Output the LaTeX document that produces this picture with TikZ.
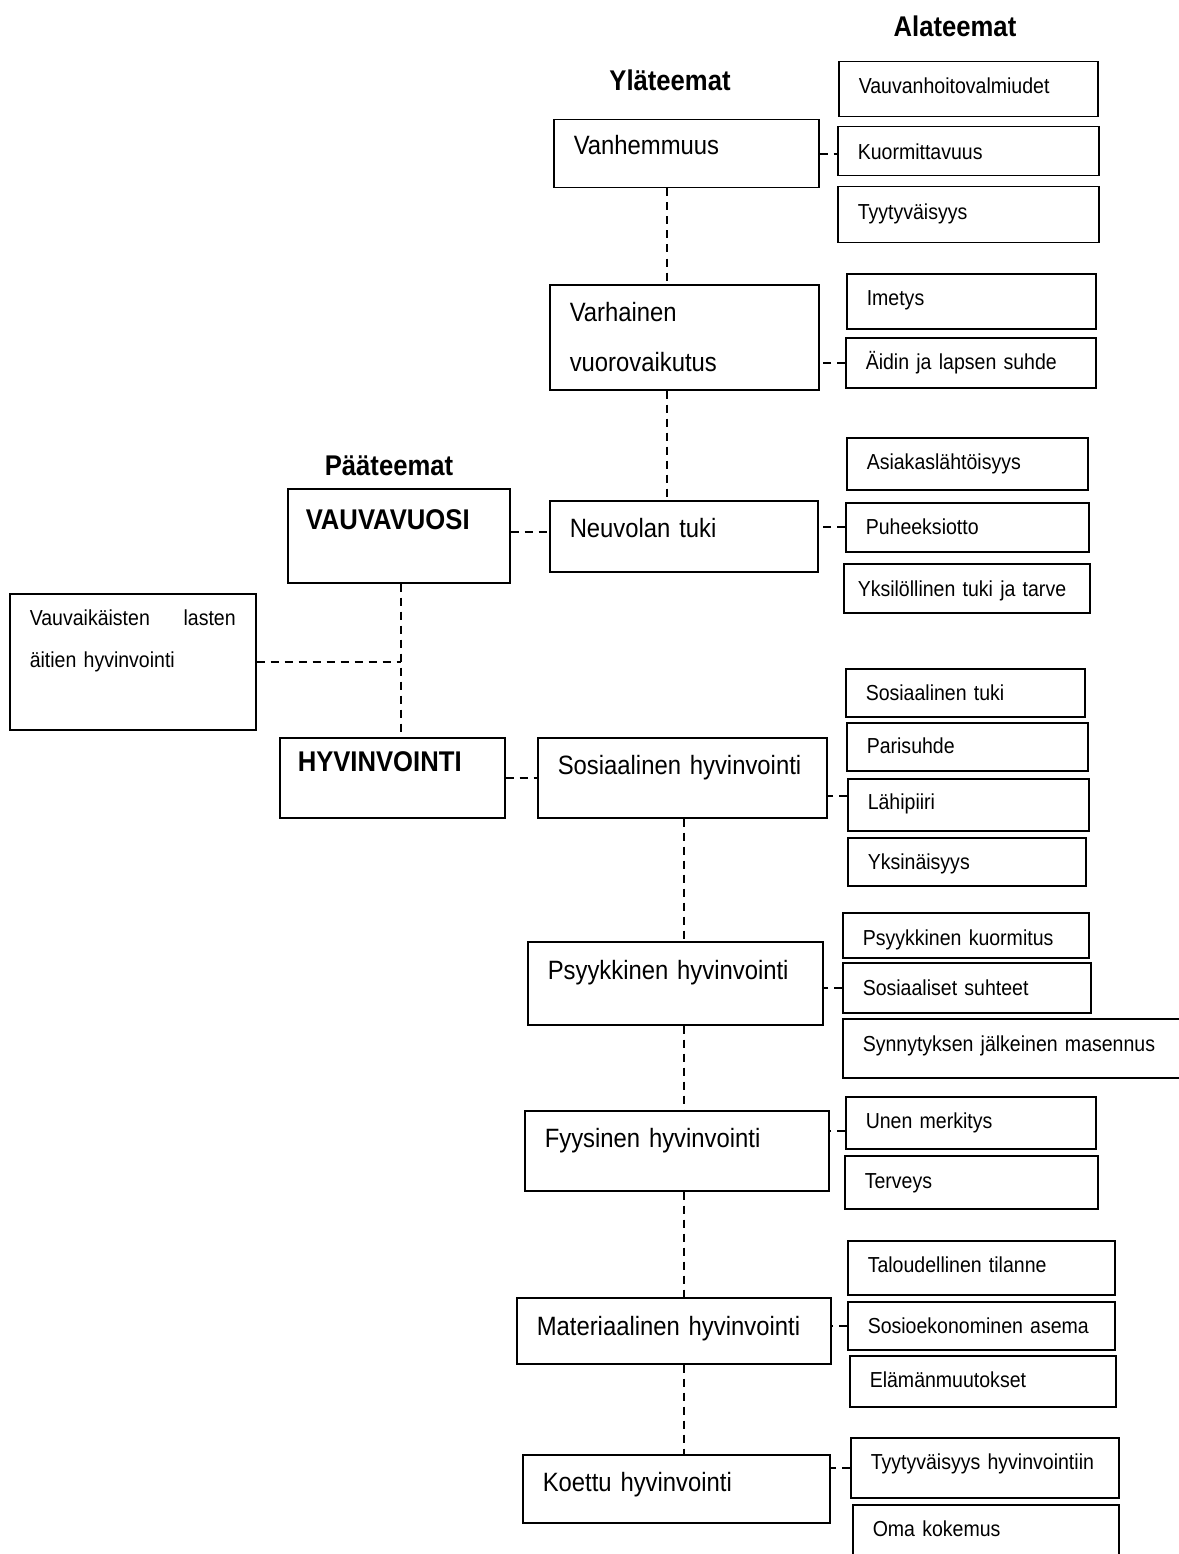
\documentclass[tikz,border=0pt]{standalone}
\usepackage{fontspec}
\setmainfont[FakeStretch=0.9]{Liberation Sans}
\tikzset{
  ybox/.style={draw,line width=1.5pt,anchor=north west,inner xsep=20pt,inner ysep=0pt,align=left,font=\fontsize{26.5}{32}\selectfont},
  abox/.style={draw,line width=1.5pt,anchor=north west,inner xsep=20pt,inner ysep=0pt,align=left,font=\fontsize{21.7}{26}\selectfont},
  pbox/.style={draw,line width=1.5pt,anchor=north west,inner xsep=18pt,inner ysep=0pt,align=left,font=\bfseries\fontsize{28.5}{34}\selectfont},
  head/.style={inner sep=0pt,font=\bfseries\fontsize{28.5}{34}\selectfont},
  link/.style={line width=1.7pt,dash pattern=on 8pt off 6pt}
}
\begin{document}
\begin{tikzpicture}[x=1pt,y=-1pt]
\useasboundingbox (0,0) rectangle (1178,1554);
\fill[white] (0,0) rectangle (1178,1554);
\coordinate (colA) at (667,0);
\coordinate (colB) at (684,0);
\coordinate (colC) at (401,0);
  \node[head] (alat) at (955,26) {Alateemat};
  \node[head] (ylat) at (670,80) {Yläteemat};
  \node[head] (paat) at (389,466) {Pääteemat};
  %%%%%%%%%%%%%%%% paateemat
  \node[pbox,text width=186pt,text height=41pt,text depth=53pt] (vauva) at (287,488) {VAUVAVUOSI};
  \node[pbox,text width=189pt,text height=34pt,text depth=46pt] (hyvi) at (279,737) {HYVINVOINTI};
  \node[abox,text width=206pt,text height=32pt,text depth=104pt,font=\fontsize{21.7}{42}\selectfont] (lbox) at (9,593) {Vauvaikäisten\hfill lasten\\äitien hyvinvointi};
  %%%%%%%%%%%%%%%% ylateemat
  \node[ybox,text width=225pt,text height=35pt,text depth=33pt] (vanh) at (553,119) {Vanhemmuus};
  \node[ybox,text width=229pt,text height=37pt,text depth=68pt,font=\fontsize{26.5}{50}\selectfont] (varh) at (549,284) {Varhainen\\vuorovaikutus};
  \node[ybox,text width=228pt,text height=37pt,text depth=34pt] (neuv) at (549,500) {Neuvolan tuki};
  \node[ybox,text width=249pt,text height=37pt,text depth=43pt] (sosi) at (537,737) {Sosiaalinen hyvinvointi};
  \node[ybox,text width=255pt,text height=38pt,text depth=45pt] (psyk) at (527,941) {Psyykkinen hyvinvointi};
  \node[ybox,text width=264pt,text height=37pt,text depth=43pt] (fyys) at (524,1110) {Fyysinen hyvinvointi};
  \node[ybox,text width=274pt,text height=38pt,text depth=28pt] (mate) at (516,1297) {Materiaalinen hyvinvointi};
  \node[ybox,text width=267pt,text height=37pt,text depth=31pt] (koet) at (522,1454) {Koettu hyvinvointi};
  %%%%%%%%%%%%%%%% alateemat
  \node[abox,text width=219pt,text height=32pt,text depth=23pt] (a1) at (838,61) {Vauvanhoitovalmiudet};
  \node[abox,text width=221pt,text height=33pt,text depth=16pt] (a2) at (837,126) {Kuormittavuus};
  \node[abox,text width=221pt,text height=33pt,text depth=23pt] (a3) at (837,186) {Tyytyväisyys};
  \node[abox,text width=209pt,text height=32pt,text depth=23pt] (b1) at (846,273) {Imetys};
  \node[abox,text width=210pt,text height=32pt,text depth=18pt] (b2) at (845,337) {Äidin ja lapsen suhde};
  \node[abox,text width=201pt,text height=32pt,text depth=20pt] (c1) at (846,437) {Asiakaslähtöisyys};
  \node[abox,text width=203pt,text height=32pt,text depth=17pt] (c2) at (845,502) {Puheeksiotto};
  \node[abox,inner xsep=14pt,text width=218pt,text height=33pt,text depth=16pt] (c3) at (843,563) {Yksilöllinen tuki ja tarve};
  \node[abox,text width=199pt,text height=32pt,text depth=16pt] (d1) at (845,668) {Sosiaalinen tuki};
  \node[abox,text width=201pt,text height=31pt,text depth=17pt] (d2) at (846,722) {Parisuhde};
  \node[abox,text width=201pt,text height=31pt,text depth=21pt] (d3) at (847,778) {Lähipiiri};
  \node[abox,text width=198pt,text height=32pt,text depth=16pt] (d4) at (847,837) {Yksinäisyys};
  \node[abox,text width=206pt,text height=33pt,text depth=12pt] (e1) at (842,912) {Psyykkinen kuormitus};
  \node[abox,text width=208pt,text height=33pt,text depth=17pt] (e2) at (842,962) {Sosiaaliset suhteet};
  \node[abox,text width=308pt,text height=33pt,text depth=26pt] (e3) at (842,1018) {Synnytyksen jälkeinen masennus};
  \node[abox,text width=210pt,text height=32pt,text depth=20pt] (f1) at (845,1096) {Unen merkitys};
  \node[abox,text width=213pt,text height=33pt,text depth=20pt] (f2) at (844,1155) {Terveys};
  \node[abox,text width=227pt,text height=32pt,text depth=22pt] (g1) at (847,1240) {Taloudellinen tilanne};
  \node[abox,text width=227pt,text height=32pt,text depth=16pt] (g2) at (847,1301) {Sosioekonominen asema};
  \node[abox,text width=226pt,text height=32pt,text depth=19pt] (g3) at (849,1355) {Elämänmuutokset};
  \node[abox,text width=228pt,text height=32pt,text depth=28pt] (h1) at (850,1437) {Tyytyväisyys hyvinvointiin};
  \node[abox,text width=226pt,text height=32pt,text depth=29pt] (h2) at (852,1504) {Oma kokemus};
  %%%%%%%%%%%%%%%% dashed links
  \draw[link] (vauva.south -| colC) -- (hyvi.north -| colC);
  \draw[link] (lbox.east) -- (lbox.east -| colC);
  \draw[link] ([yshift=4pt]vauva.east) -- ([yshift=4pt]vauva.east -| neuv.west);
  \draw[link] (hyvi.east) -- (hyvi.east -| sosi.west);
  \draw[link] (vanh.south -| colA) -- (varh.north -| colA);
  \draw[link] (varh.south -| colA) -- (neuv.north -| colA);
  \draw[link] (sosi.south -| colB) -- (psyk.north -| colB);
  \draw[link] (psyk.south -| colB) -- (fyys.north -| colB);
  \draw[link] (fyys.south -| colB) -- (mate.north -| colB);
  \draw[link] (mate.south -| colB) -- (koet.north -| colB);
  \draw[link] (vanh.east) -- (vanh.east -| a2.west);
  \draw[link] (b2.west) -- (b2.west -| varh.east);
  \draw[link] (c2.west) -- (c2.west -| neuv.east);
  \draw[link] ([yshift=9pt]d3.west) -- ([yshift=9pt]d3.west -| sosi.east);
  \draw[link] (e2.west) -- (e2.west -| psyk.east);
  \draw[link] ([yshift=-8pt]f1.west) -- ([yshift=-8pt]f1.west -| fyys.east);
  \draw[link] (g2.west) -- (g2.west -| mate.east);
  \draw[link] (h1.west) -- (h1.west -| koet.east);
\end{tikzpicture}
\end{document}
